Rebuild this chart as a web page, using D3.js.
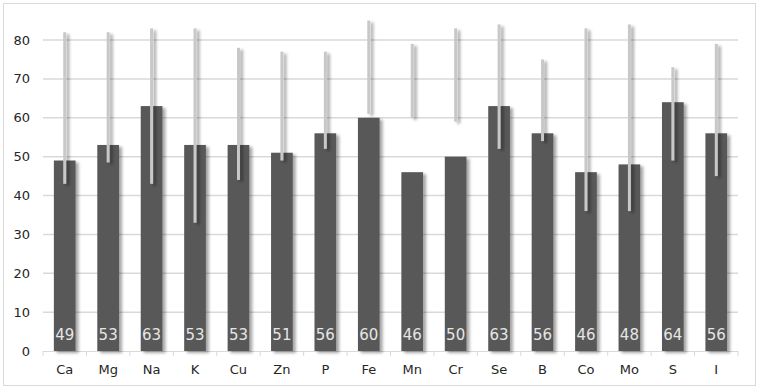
<!DOCTYPE html>
<html>
<head>
<meta charset="utf-8">
<script src="https://cdn.jsdelivr.net/npm/d3@7"></script>
<style>
  body { margin: 0; background: #fff; }
  svg { display: block; }
</style>
</head>
<body>
<svg width="757" height="387"></svg>
<script>
// values
var elements = ["Ca", "Mg", "Na", "K", "Cu", "Zn", "P", "Fe", "Mn", "Cr", "Se", "B", "Co", "Mo", "S", "I"];
var values   = [49, 53, 63, 53, 53, 51, 56, 60, 46, 50, 63, 56, 46, 48, 64, 56];
var lows     = [43, 48.5, 43, 33, 44, 49, 52, 61, 60, 59, 52, 54, 36, 36, 49, 45];
var highs    = [82, 82, 83, 83, 78, 77, 77, 85, 79, 83, 84, 75, 83, 84, 73, 79];
var yTicks   = [0, 10, 20, 30, 40, 50, 60, 70, 80];

var svg = d3.select("svg"),
    width = +svg.attr("width"),
    height = +svg.attr("height");

var defs = svg.append("defs");
var f = defs.append("filter").attr("id", "shadow")
    .attr("x", "-30%").attr("y", "-10%").attr("width", "180%").attr("height", "130%");
f.append("feDropShadow").attr("dx", 3).attr("dy", 2).attr("stdDeviation", 1.6)
    .attr("flood-color", "#000").attr("flood-opacity", 0.35);

// outer frame
svg.append("rect")
    .attr("x", 3.5).attr("y", 3.5)
    .attr("width", width - 5).attr("height", height - 5)
    .attr("fill", "#fff").attr("stroke", "#d9d9d9");

var plotL = 43, plotR = 738, plotT = 40, plotB = 351;

var x = d3.scaleBand().domain(elements).range([plotL, plotR]).paddingInner(0.5).paddingOuter(0.25);
var xb = d3.scaleBand().domain(elements).range([plotL, plotR]);
var y = d3.scaleLinear().domain([0, 80]).range([plotB, plotT]);

// grid
svg.append("g").selectAll("line").data(yTicks.slice(1)).enter().append("line")
    .attr("x1", plotL).attr("x2", plotR)
    .attr("y1", function(d) { return y(d); }).attr("y2", function(d) { return y(d); })
    .attr("stroke", "#d9d9d9").attr("stroke-width", 1.5);

// y axis labels
svg.append("g").selectAll("text").data(yTicks).enter().append("text")
    .attr("x", 30).attr("y", function(d) { return y(d); })
    .attr("dy", "0.35em").attr("text-anchor", "end")
    .attr("font-family", "DejaVu Sans, Verdana, sans-serif").attr("font-size", 13)
    .attr("fill", "#262626")
    .text(function(d) { return d; });

// x axis baseline and ticks
svg.append("line").attr("x1", plotL).attr("x2", plotR)
    .attr("y1", plotB + 0.5).attr("y2", plotB + 0.5)
    .attr("stroke", "#d9d9d9").attr("stroke-width", 1);
svg.append("g").selectAll("line").data(elements.concat(["_end"])).enter().append("line")
    .attr("x1", function(d, i) { return plotL + i * xb.bandwidth(); })
    .attr("x2", function(d, i) { return plotL + i * xb.bandwidth(); })
    .attr("y1", plotB).attr("y2", plotB + 5)
    .attr("stroke", "#d9d9d9");

svg.append("g").selectAll("text").data(elements).enter().append("text")
    .attr("x", function(d) { return xb(d) + xb.bandwidth() / 2; })
    .attr("y", 369).attr("dy", "0.35em").attr("text-anchor", "middle")
    .attr("font-family", "DejaVu Sans, Verdana, sans-serif").attr("font-size", 13)
    .attr("fill", "#262626")
    .text(function(d) { return d; });

// bars
svg.append("g").attr("filter", "url(#shadow)").selectAll("rect").data(values).enter().append("rect")
    .attr("x", function(d, i) { return x(elements[i]); })
    .attr("width", x.bandwidth())
    .attr("y", function(d) { return y(d); })
    .attr("height", function(d) { return plotB - y(d); })
    .attr("fill", "#595959");

// error ranges
svg.append("g").attr("filter", "url(#shadow)").selectAll("line").data(highs).enter().append("line")
    .attr("x1", function(d, i) { return xb(elements[i]) + xb.bandwidth() / 2; })
    .attr("x2", function(d, i) { return xb(elements[i]) + xb.bandwidth() / 2; })
    .attr("y1", function(d) { return y(d); })
    .attr("y2", function(d, i) { return y(lows[i]); })
    .attr("stroke", "#c8c8c8").attr("stroke-width", 3);

// value labels
svg.append("g").selectAll("text").data(values).enter().append("text")
    .attr("x", function(d, i) { return xb(elements[i]) + xb.bandwidth() / 2; })
    .attr("y", 335).attr("dy", "0.35em").attr("text-anchor", "middle")
    .attr("font-family", "DejaVu Sans, Verdana, sans-serif").attr("font-size", 15)
    .attr("fill", "#e6e6e6")
    .text(function(d) { return d; });
</script>
</body>
</html>
